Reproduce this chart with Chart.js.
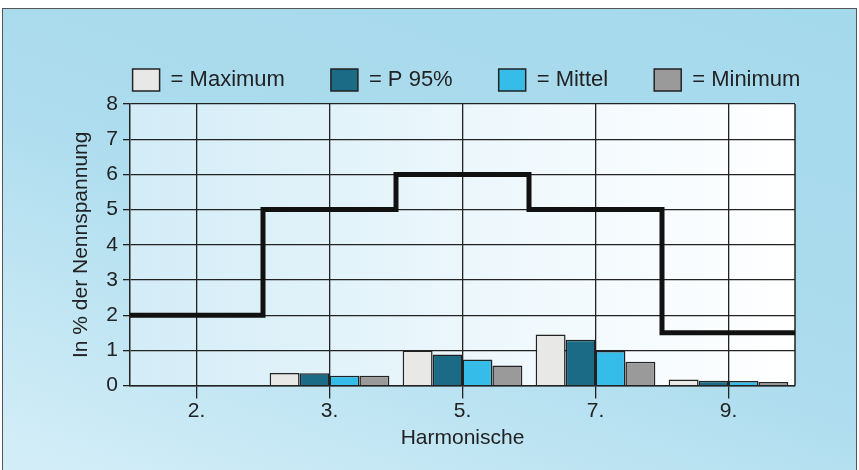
<!DOCTYPE html>
<html>
<head>
<meta charset="utf-8">
<script src="https://cdn.jsdelivr.net/npm/chart.js@4/dist/chart.umd.min.js"></script>
<style>
  html, body { margin: 0; padding: 0; background: #fff; }
  #frame {
    position: absolute; left: 2px; top: 8px; width: 855px; height: 462px;
    box-sizing: border-box;
    border: 1px solid #555; border-bottom: none;
    background: linear-gradient(200deg, #a4d9eb 0%, #acdcee 50%, #d4eef8 100%);
  }
  #box { position: absolute; left: 0; top: 0; width: 853px; height: 461px; }
</style>
</head>
<body>
<div id="frame"><div id="box"><canvas id="chart"></canvas></div></div>
<script>
const harmonics = ["2.", "3.", "5.", "7.", "9."];
const maximum = [0, 0.36, 1.0, 1.45, 0.17];
const p95 = [0, 0.35, 0.88, 1.3, 0.14];
const mittel = [0, 0.28, 0.74, 0.98, 0.13];
const minimum = [0, 0.28, 0.57, 0.68, 0.1];
const limitValues = [2, 5, 6, 5, 1.5];
const yTicks = [0, 1, 2, 3, 4, 5, 6, 7, 8];

const ink = "#222";
const family = "'Liberation Sans', Arial, sans-serif";
const font = { family, size: 21 };

// one linear x axis: harmonic i sits at x = i, its slot runs from i-0.5 to i+0.5
const atSlots = (arr) => arr.map((v, i) => ({ x: i, y: v }));
const limitPoints = limitValues.map((v, i) => ({ x: i - 0.5, y: v }));
limitPoints.push({ x: limitValues.length - 0.5, y: limitValues[limitValues.length - 1] });

const plotBackground = {
    id: "plotBackground",
    afterLayout(chart) {
        // centre the legend row over the plot area, a little above it
        const a = chart.chartArea;
        const mid = (a.left + a.right) / 2 + 4;
        const lg = chart.legend;
        lg.left = mid - 400;
        lg.right = mid + 400;
        lg.top -= 3;
        lg.bottom -= 3;
    },
    beforeDraw(chart) {
        const { ctx, chartArea: a } = chart;
        const g = ctx.createLinearGradient(a.left, 0, a.right, 0);
        g.addColorStop(0, "#d3ecf7");
        g.addColorStop(0.55, "#eef8fc");
        g.addColorStop(1, "#ffffff");
        ctx.save();
        ctx.fillStyle = g;
        ctx.fillRect(a.left, a.top, a.right - a.left, a.bottom - a.top);
        ctx.restore();
    },
    beforeDatasetsDraw(chart) {
        const { ctx, chartArea: a } = chart;
        ctx.save();
        ctx.strokeStyle = ink;
        ctx.lineWidth = 1.5;
        ctx.beginPath();
        ctx.moveTo(a.right, a.top);
        ctx.lineTo(a.right, a.bottom);
        ctx.stroke();
        ctx.restore();
    }
};

function bar(label, data, color) {
    return {
        type: "bar", label, data: atSlots(data), order: 1,
        backgroundColor: color, borderColor: ink, borderWidth: 1.5,
        categoryPercentage: 0.9, barPercentage: 1.0
    };
}

new Chart(document.getElementById("chart"), {
    data: {
        datasets: [
            bar("= Maximum", maximum, "#e8e8e6"),
            bar("= P 95%", p95, "#1b6a86"),
            bar("= Mittel", mittel, "#36bce9"),
            bar("= Minimum", minimum, "#9a9a9a"),
            {
                type: "line", label: "Grenzwert", data: limitPoints, order: 0,
                borderColor: "#111", borderWidth: 5, stepped: "before",
                pointRadius: 0, fill: false
            }
        ]
    },
    options: {
        responsive: true,
        maintainAspectRatio: false,
        animation: false,
        layout: { padding: { left: 0, right: 0, top: 17, bottom: 15 } },
        plugins: {
            legend: {
                position: "top",
                align: "center",
                labels: {
                    filter: (item) => item.datasetIndex < 4,
                    boxWidth: 27, boxHeight: 22, padding: 46,
                    color: ink, font: { family, size: 22 }
                }
            },
            tooltip: { enabled: false }
        },
        scales: {
            x: {
                type: "linear", offset: false,
                min: -0.5, max: harmonics.length - 0.5,
                afterBuildTicks: (s) => { s.ticks = harmonics.map((_, i) => ({ value: i })); },
                grid: { offset: false, color: ink, lineWidth: 1.3, tickLength: 13, tickColor: ink },
                border: { color: ink, width: 1.5 },
                ticks: { color: ink, font, padding: 0, autoSkip: false, callback: (v) => harmonics[v] },
                title: { display: true, text: "Harmonische", color: ink, font, padding: { top: 2, bottom: 4 } }
            },
            y: {
                min: 0, max: 8,
                afterBuildTicks: (s) => { s.ticks = yTicks.map(v => ({ value: v })); },
                afterFit: (s) => { s.width = 127; },
                grid: { color: ink, lineWidth: 1.3, tickLength: 7, tickColor: ink },
                border: { color: ink, width: 1.5 },
                ticks: { color: ink, font, padding: 5, autoSkip: false },
                title: { display: true, text: "In % der Nennspannung", color: ink, font, padding: { top: 66, bottom: 4 } }
            },
            yRight: {
                position: "right", min: 0, max: 8,
                afterFit: (s) => { s.width = 61; },
                grid: { display: false, drawTicks: false },
                border: { display: false },
                ticks: { display: false }
            }
        }
    },
    plugins: [plotBackground]
});
</script>
</body>
</html>
